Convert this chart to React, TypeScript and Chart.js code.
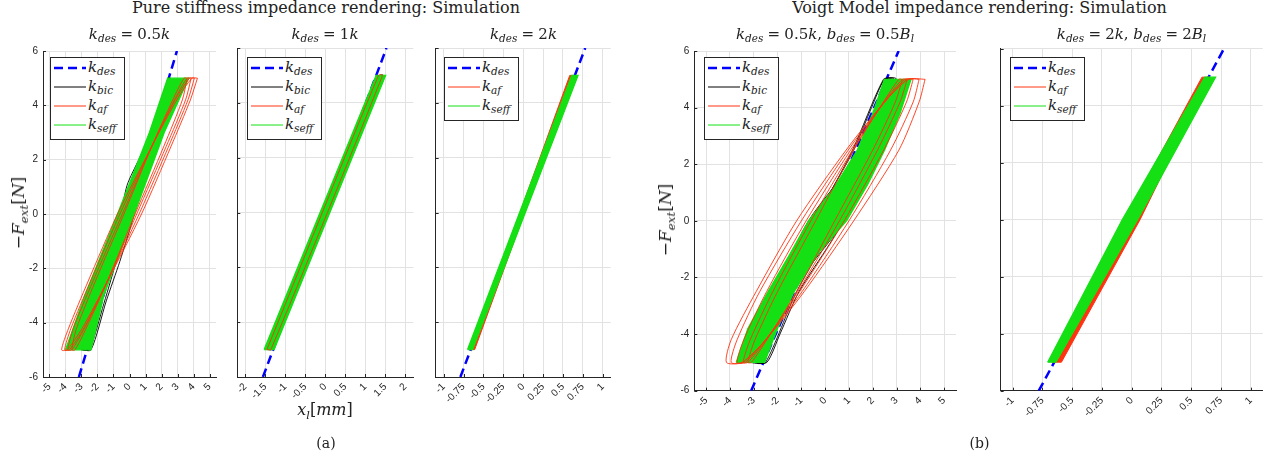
import React, { useEffect, useRef } from 'react';
import { Chart, registerables } from 'chart.js';

Chart.register(...registerables);

type Pt = [number, number];

// ---------------- tick values ----------------
const yTicks: number[] = [-6, -4, -2, 0, 2, 4, 6];
const xTicksWide: number[] = [-5, -4, -3, -2, -1, 0, 1, 2, 3, 4, 5];
const xTicksMid: number[] = [-2, -1.5, -1, -0.5, 0, 0.5, 1, 1.5, 2];
const xTicksNarrow: number[] = [-1, -0.75, -0.5, -0.25, 0, 0.25, 0.5, 0.75, 1];

// ---------------- (a) k_des = 0.5k ----------------
const a1Des: Pt[] = [[-3.16, -6], [2.96, 6]];
const a1Bic: Pt[][] = [
  [[-3.0, -5], [-2.4, -5], [-1.45, -3.2], [-0.6, -1.74], [0.25, -0.1], [0.95, 1.5], [1.7, 3.1], [2.55, 5], [2.42, 5], [1.55, 3.3], [0.6, 2.03], [-0.15, 1.06], [-0.6, -0.2], [-1.3, -1.8], [-2.15, -3.4], [-3.0, -5]],
  [[-2.95, -5], [-2.5, -5], [-1.6, -3.3], [-0.7, -1.5], [0.2, 0.2], [1.1, 2.0], [1.9, 3.5], [2.5, 5], [2.42, 5], [1.6, 3.5], [0.8, 1.9], [0, 0.1], [-1.0, -1.9], [-2.0, -3.6], [-2.95, -5]],
];
const a1Af: Pt[][] = [
  [[4.24, 5], [3.9, 5], [2.95, 4.2], [1.4, 2.5], [-0.75, 0], [-2.6, -2.5], [-3.8, -4.2], [-4.24, -5], [-3.9, -5], [-2.95, -4.2], [-1.4, -2.5], [0.75, 0], [2.6, 2.5], [3.8, 4.2], [4.24, 5]],
  [[4.05, 5], [3.75, 5], [2.85, 4.2], [1.4, 2.5], [-0.6, 0], [-2.45, -2.5], [-3.65, -4.2], [-4.05, -5], [-3.75, -5], [-2.85, -4.2], [-1.4, -2.5], [0.6, 0], [2.45, 2.5], [3.65, 4.2], [4.05, 5]],
  [[3.85, 5], [3.6, 5], [2.8, 4.2], [1.4, 2.5], [-0.45, 0], [-2.3, -2.5], [-3.5, -4.2], [-3.85, -5], [-3.6, -5], [-2.8, -4.2], [-1.4, -2.5], [0.45, 0], [2.3, 2.5], [3.5, 4.2], [3.85, 5]],
  [[3.6, 5], [3.4, 5], [2.7, 4.2], [1.4, 2.5], [-0.35, 0], [-2.15, -2.5], [-3.3, -4.2], [-3.6, -5], [-3.4, -5], [-2.7, -4.2], [-1.4, -2.5], [0.35, 0], [2.15, 2.5], [3.3, 4.2], [3.6, 5]],
];
const a1Seff: Pt[] = [[-4.0, -5], [-2.4, -5], [-1.6, -3], [0.3, 0], [2.17, 3], [3.7, 5], [2.38, 5], [1.24, 3], [-0.75, 0], [-2.79, -3], [-4.0, -5]];

// ---------------- (a) k_des = 1k ----------------
const a2Des: Pt[] = [[-1.56, -6], [1.53, 6]];
const a2Bic: Pt[][] = [[[-1.42, -5], [-1.34, -5], [1.45, 5], [1.36, 5], [-1.42, -5]]];
const a2Af: Pt[][] = [[[-1.46, -5], [-1.36, -5], [1.43, 5], [1.33, 5], [-1.46, -5]]];
const a2Seff: Pt[] = [[-1.53, -5], [-1.28, -5], [1.51, 5], [1.27, 5], [-1.53, -5]];

// ---------------- (a) k_des = 2k ----------------
const a3Des: Pt[] = [[-0.79, -6], [0.78, 6]];
const a3Af: Pt[] = [[-0.665, -5], [-0.61, -5], [0.645, 5], [0.585, 5], [-0.665, -5]];
const a3Seff: Pt[] = [[-0.7, -5], [-0.635, -5], [0.69, 5], [0.61, 5], [-0.7, -5]];

// ---------------- (b) k_des = 0.5k, b_des = 0.5B_l ----------------
const b1Des: Pt[] = [[-3.11, -6], [3.09, 6]];
const b1Bic: Pt[][] = [
  [[-3.0, -5], [-2.45, -5], [-1.9, -4.0], [-1.1, -2.5], [0.2, -0.8], [1.1, 0.5], [2.0, 2.6], [2.6, 4.0], [2.9, 5], [2.5, 5], [1.95, 4.0], [1.2, 2.5], [0.2, 1.0], [-0.6, 0], [-1.6, -2.0], [-2.3, -3.5], [-3.0, -5]],
  [[-2.95, -5], [-2.5, -5], [-1.2, -2.5], [0.5, 0], [1.9, 2.5], [2.8, 5], [2.45, 5], [1.15, 2.5], [-0.4, 0], [-1.75, -2.5], [-2.95, -5]],
  [[-3.2, -5], [-2.6, -5], [-1.5, -2.6], [0.8, 0], [2.2, 2.5], [3.0, 5], [2.55, 5], [1.5, 2.5], [-0.7, 0], [-2.1, -2.5], [-3.2, -5]],
];
const b1Af: Pt[][] = [
  [[4.2, 5], [3.5, 5], [2.5, 4.2], [0.88, 2.5], [-1.2, 0], [-2.9, -2.5], [-3.95, -4.2], [-4.15, -5], [-3.5, -5], [-2.5, -4.2], [-0.88, -2.5], [1.2, 0], [3.1, 2.5], [3.95, 4.2], [4.2, 5]],
  [[3.95, 5], [3.45, 5], [2.5, 4.2], [0.97, 2.5], [-1.0, 0], [-2.75, -2.5], [-3.7, -4.2], [-3.95, -5], [-3.45, -5], [-2.5, -4.2], [-0.97, -2.5], [1.0, 0], [2.75, 2.5], [3.7, 4.2], [3.95, 5]],
  [[3.7, 5], [3.35, 5], [2.5, 4.2], [1.07, 2.5], [-0.8, 0], [-2.46, -2.5], [-3.42, -4.2], [-3.7, -5], [-3.35, -5], [-2.5, -4.2], [-1.07, -2.5], [0.8, 0], [2.46, 2.5], [3.42, 4.2], [3.7, 5]],
  [[3.45, 5], [3.25, 5], [2.47, 4.2], [1.15, 2.5], [-0.6, 0], [-2.2, -2.5], [-3.15, -4.2], [-3.45, -5], [-3.25, -5], [-2.47, -4.2], [-1.15, -2.5], [0.6, 0], [2.2, 2.5], [3.15, 4.2], [3.45, 5]],
  [[3.25, 5], [3.1, 5], [2.45, 4.2], [1.2, 2.5], [-0.4, 0], [-2.0, -2.5], [-2.95, -4.2], [-3.25, -5], [-3.1, -5], [-2.45, -4.2], [-1.2, -2.5], [0.4, 0], [2.0, 2.5], [2.95, 4.2], [3.25, 5]],
];
const b1Seff: Pt[] = [[-3.74, -5], [-2.55, -5], [-2.0, -3.8], [-1.3, -2.5], [-0.25, -1.1], [0.9, 0], [1.8, 1.3], [2.5, 2.5], [3.15, 3.8], [3.61, 5], [2.49, 5], [2.0, 3.8], [1.35, 2.5], [0.4, 1.2], [-0.7, 0], [-1.5, -1.2], [-2.4, -2.5], [-3.25, -3.8], [-3.74, -5]];

// ---------------- (b) k_des = 2k, b_des = 2B_l ----------------
const b2Des: Pt[] = [[-0.78, -6], [0.775, 6]];
const b2Af: Pt[] = [[-0.67, -5], [-0.59, -5], [0.07, 0], [0.655, 5], [0.59, 5], [-0.06, 0], [-0.67, -5]];
const b2Seff: Pt[] = [[-0.706, -5], [-0.636, -5], [0.05, 0], [0.705, 5], [0.613, 5], [-0.08, 0], [-0.706, -5]];

// ---------------- styling ----------------
const BLUE = '#0000ff';
const RED = '#ff3311';
const GREEN = '#14e014';
const BLACK = '#000000';
const AXIS = '#262626';
const GRID = '#e2e2e2';
const SERIF = "'DejaVu Serif', 'Liberation Serif', serif";
const SANS = "'Liberation Sans', Arial, Helvetica, sans-serif";

interface Panel {
  left: number; top: number; width: number; height: number;
  plotL: number; plotR: number; plotT: number; plotB: number;
  xMin: number; xMax: number; xTicks: number[]; showY: boolean;
  des: Pt[]; bic: Pt[][]; afLoops: Pt[][]; afBand: Pt[] | null; seff: Pt[];
}

const panels: Panel[] = [
  { left: 0, top: 40, width: 230, height: 420, plotL: 43, plotR: 216, plotT: 48, plotB: 377, xMin: -5.4, xMax: 5.4, xTicks: xTicksWide, showY: true, des: a1Des, bic: a1Bic, afLoops: a1Af, afBand: null, seff: a1Seff },
  { left: 215, top: 40, width: 210, height: 420, plotL: 237.3, plotR: 413.3, plotT: 48, plotB: 377, xMin: -2.2, xMax: 2.2, xTicks: xTicksMid, showY: false, des: a2Des, bic: a2Bic, afLoops: a2Af, afBand: null, seff: a2Seff },
  { left: 427, top: 40, width: 200, height: 420, plotL: 435.7, plotR: 610.7, plotT: 48, plotB: 377, xMin: -1.1, xMax: 1.1, xTicks: xTicksNarrow, showY: false, des: a3Des, bic: [], afLoops: [], afBand: a3Af, seff: a3Seff },
  { left: 650, top: 40, width: 320, height: 420, plotL: 694.3, plotR: 956, plotT: 48.7, plotB: 390.7, xMin: -5.5, xMax: 5.5, xTicks: xTicksWide, showY: true, des: b1Des, bic: b1Bic, afLoops: b1Af, afBand: null, seff: b1Seff },
  { left: 975, top: 40, width: 296, height: 420, plotL: 1000.7, plotR: 1262.7, plotT: 48.7, plotB: 390.7, xMin: -1.1, xMax: 1.1, xTicks: xTicksNarrow, showY: false, des: b2Des, bic: [], afLoops: [], afBand: b2Af, seff: b2Seff },
];

const toXY = (pts: Pt[]) => pts.map(([x, y]) => ({ x, y }));

function lineDs(pts: Pt[], color: string, width: number, order: number, extra: any = {}) {
  return {
    data: toXY(pts),
    borderColor: color,
    backgroundColor: color,
    borderWidth: width,
    pointRadius: 0,
    pointHoverRadius: 0,
    fill: false,
    tension: 0,
    order,
    ...extra,
  };
}

const insideTicks = {
  id: 'insideTicks',
  afterDatasetsDraw(chart: any) {
    const { ctx, chartArea: a, scales } = chart;
    ctx.save();
    ctx.strokeStyle = AXIS;
    ctx.lineWidth = 1;
    scales.x.ticks.forEach((t: any) => {
      const px = Math.round(scales.x.getPixelForValue(t.value)) + 0.5;
      ctx.beginPath();
      ctx.moveTo(px, a.bottom);
      ctx.lineTo(px, a.bottom - 3);
      ctx.stroke();
    });
    scales.y.ticks.forEach((t: any) => {
      const py = Math.round(scales.y.getPixelForValue(t.value)) + 0.5;
      ctx.beginPath();
      ctx.moveTo(a.left, py);
      ctx.lineTo(a.left + 3, py);
      ctx.stroke();
    });
    ctx.restore();
  },
};

function buildChart(canvas: HTMLCanvasElement, p: Panel) {
  const datasets: any[] = [];
  datasets.push(lineDs(p.des, BLUE, 2.5, 50, { borderDash: [9, 5] }));
  p.bic.forEach((l) => datasets.push(lineDs(l, BLACK, 0.9, 40, { tension: 0.25 })));
  if (p.afBand) datasets.push(lineDs(p.afBand, RED, 1, 35, { fill: 'shape' }));
  datasets.push(lineDs(p.seff, GREEN, 1.2, 30, { fill: 'shape' }));
  p.afLoops.forEach((l) => datasets.push(lineDs(l, RED, 0.9, 20, { tension: 0.25 })));

  const yW = p.plotL - p.left;
  const xH = p.top + p.height - p.plotB;
  const padR = p.left + p.width - p.plotR;
  const padT = p.plotT - p.top;
  const xTicks = p.xTicks;

  return new Chart(canvas, {
    type: 'line',
    data: { datasets },
    plugins: [insideTicks],
    options: {
      responsive: false,
      animation: false,
      events: [],
      devicePixelRatio: 1,
      layout: { padding: { left: 0, right: padR, top: padT, bottom: 0 } },
      plugins: { legend: { display: false }, tooltip: { enabled: false }, title: { display: false } },
      scales: {
        x: {
          type: 'linear',
          min: p.xMin,
          max: p.xMax,
          afterBuildTicks: (ax: any) => { ax.ticks = xTicks.map((v) => ({ value: v })); },
          afterFit: (s: any) => { s.height = xH; },
          grid: { color: GRID, drawTicks: false, lineWidth: 1 },
          border: { display: true, color: AXIS, width: 1 },
          ticks: {
            minRotation: 45,
            maxRotation: 45,
            autoSkip: false,
            padding: 4,
            color: AXIS,
            font: { family: SANS, size: 10 },
            callback: (v: any) => String(v),
          },
        },
        y: {
          type: 'linear',
          min: -6,
          max: 6,
          afterBuildTicks: (ax: any) => { ax.ticks = yTicks.map((v) => ({ value: v })); },
          afterFit: (s: any) => { s.width = yW; },
          grid: { color: GRID, drawTicks: false, lineWidth: 1 },
          border: { display: true, color: AXIS, width: 1 },
          ticks: {
            display: p.showY,
            padding: 5,
            color: AXIS,
            font: { family: SANS, size: 10 },
            callback: (v: any) => String(v),
          },
        },
      },
    } as any,
  });
}

// ---------------- text helpers ----------------
const Sub: React.FC<{ children: React.ReactNode }> = ({ children }) => (
  <span style={{ fontSize: '0.7em', position: 'relative', top: '0.32em', fontStyle: 'italic' }}>{children}</span>
);
const I: React.FC<{ children: React.ReactNode }> = ({ children }) => <span style={{ fontStyle: 'italic' }}>{children}</span>;
const Eq = () => <span style={{ margin: '0 0.28em' }}>=</span>;

const kdes = <><I>k</I><Sub>des</Sub></>;
const kbic = <><I>k</I><Sub>bic</Sub></>;
const kaf = <><I>k</I><Sub>af</Sub></>;
const kseff = <><I>k</I><Sub>seff</Sub></>;

interface Row { label: React.ReactNode; color: string; dashed?: boolean; }

const Legend: React.FC<{ left: number; top: number; width: number; rows: Row[] }> = ({ left, top, width, rows }) => (
  <div style={{ position: 'absolute', left, top, width, height: 4 + rows.length * 19 + 3, border: `1px solid ${AXIS}`, background: '#fff', boxSizing: 'border-box' }}>
    {rows.map((r, i) => {
      const c = 10 + 19 * i;
      return (
        <React.Fragment key={i}>
          <svg style={{ position: 'absolute', left: 2, top: c - 3 }} width={34} height={6}>
            <line x1={1} y1={3} x2={33} y2={3} stroke={r.color} strokeWidth={r.dashed ? 2.5 : 1} strokeDasharray={r.dashed ? '9 5' : undefined} />
          </svg>
          <div style={{ position: 'absolute', left: 37, top: c - 9, fontSize: 15, lineHeight: '16px', fontFamily: SERIF, whiteSpace: 'nowrap', color: '#222' }}>{r.label}</div>
        </React.Fragment>
      );
    })}
  </div>
);

const rows4: Row[] = [
  { label: kdes, color: BLUE, dashed: true },
  { label: kbic, color: BLACK },
  { label: kaf, color: RED },
  { label: kseff, color: GREEN },
];
const rows3: Row[] = [
  { label: kdes, color: BLUE, dashed: true },
  { label: kaf, color: RED },
  { label: kseff, color: GREEN },
];

const Centered: React.FC<{ x: number; top: number; size: number; children: React.ReactNode }> = ({ x, top, size, children }) => (
  <div style={{ position: 'absolute', left: x, top, transform: 'translateX(-50%)', whiteSpace: 'nowrap', fontFamily: SERIF, fontSize: size, lineHeight: `${size}px`, color: '#222' }}>{children}</div>
);

const YLabel: React.FC<{ cx: number; cy: number }> = ({ cx, cy }) => (
  <div style={{ position: 'absolute', left: cx, top: cy, transform: 'translate(-50%, -50%) rotate(-90deg)', whiteSpace: 'nowrap', fontFamily: SERIF, fontSize: 17, lineHeight: '18px', color: '#222' }}>
    −<I>F</I><Sub>ext</Sub>[<I>N</I>]
  </div>
);

export default function App() {
  const refs = useRef<(HTMLCanvasElement | null)[]>([]);

  useEffect(() => {
    const charts = panels.map((p, i) => buildChart(refs.current[i] as HTMLCanvasElement, p));
    return () => charts.forEach((c) => c.destroy());
  }, []);

  return (
    <div style={{ position: 'absolute', left: 0, top: 0, width: 1271, height: 463, overflow: 'hidden', background: '#fff' }}>
      {panels.map((p, i) => (
        <canvas
          key={i}
          ref={(el) => { refs.current[i] = el; }}
          width={p.width}
          height={p.height}
          style={{ position: 'absolute', left: p.left, top: p.top, width: p.width, height: p.height }}
        />
      ))}

      <Centered x={326} top={0} size={16}>Pure stiffness impedance rendering: Simulation</Centered>
      <Centered x={979.5} top={0} size={16}>Voigt Model impedance rendering: Simulation</Centered>

      <Centered x={129.5} top={27} size={15}>{kdes}<Eq />0.5<I>k</I></Centered>
      <Centered x={325} top={27} size={15}>{kdes}<Eq />1<I>k</I></Centered>
      <Centered x={523.5} top={27} size={15}>{kdes}<Eq />2<I>k</I></Centered>
      <Centered x={825} top={27} size={15}>{kdes}<Eq />0.5<I>k</I>, <I>b</I><Sub>des</Sub><Eq />0.5<I>B</I><Sub>l</Sub></Centered>
      <Centered x={1131.5} top={27} size={15}>{kdes}<Eq />2<I>k</I>, <I>b</I><Sub>des</Sub><Eq />2<I>B</I><Sub>l</Sub></Centered>

      <Legend left={50} top={57} width={75} rows={rows4} />
      <Legend left={247} top={57} width={75} rows={rows4} />
      <Legend left={444} top={57} width={75} rows={rows3} />
      <Legend left={704} top={57} width={75} rows={rows4} />
      <Legend left={1010} top={57} width={75} rows={rows3} />

      <YLabel cx={19} cy={213} />
      <YLabel cx={666} cy={220} />

      <Centered x={325} top={402} size={16}><I>x</I><Sub>l</Sub>[<I>mm</I>]</Centered>
      <Centered x={326} top={436} size={14}>(a)</Centered>
      <Centered x={979.5} top={436} size={14}>(b)</Centered>
    </div>
  );
}
